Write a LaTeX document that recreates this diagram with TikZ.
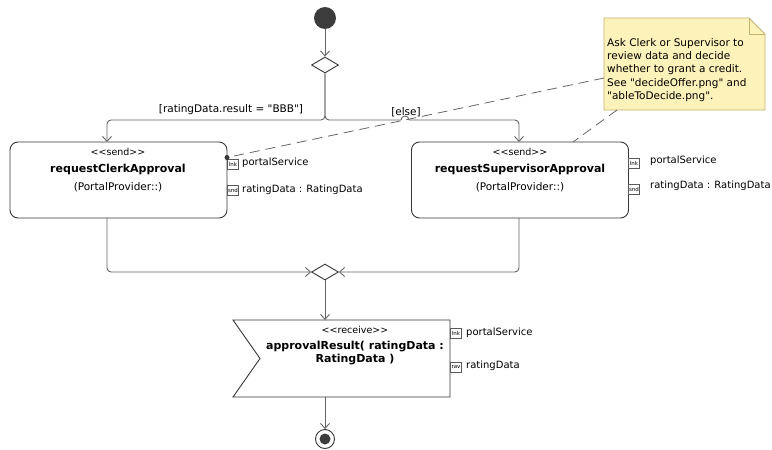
\documentclass[tikz,border=0pt]{standalone}
\usepackage{fontspec}
\setmainfont{DejaVu Sans}[Ligatures=TeXOff]
\usetikzlibrary{arrows.meta,shapes.geometric,calc}
\definecolor{linec}{RGB}{100,100,100}
\definecolor{boxc}{RGB}{55,55,55}
\definecolor{initc}{RGB}{60,60,60}
\definecolor{notefill}{RGB}{253,242,186}
\definecolor{notedraw}{RGB}{196,178,112}
\definecolor{pinc}{RGB}{90,90,90}
\begin{document}
\begin{tikzpicture}[x=1pt,y=-1pt,
  ln/.style={draw=linec,line width=0.9pt},
  arr/.style={ln,-{Straight Barb[length=5pt,width=9pt,line width=0.9pt]}},
  actbox/.style={draw=boxc,line width=0.9pt,rounded corners=8pt,fill=white,minimum width=217pt,minimum height=76pt,inner sep=0pt},
  dec/.style={diamond,draw=boxc,line width=0.9pt,fill=white,minimum width=27pt,minimum height=16pt,inner sep=0pt},
  pinbox/.style={draw=pinc,line width=0.6pt,fill=white,minimum width=11pt,minimum height=10pt,inner sep=0pt,font=\fontsize{5.5}{6}\selectfont},
  st/.style={font=\fontsize{9.5}{11}\selectfont,inner sep=0pt},
  nm/.style={font=\fontsize{11}{13}\selectfont\bfseries,inner sep=0pt},
  tx/.style={font=\fontsize{10.5}{13}\selectfont,inner sep=0pt},
  pl/.style={font=\fontsize{10}{12}\selectfont,inner sep=0pt,anchor=west},
  notedash/.style={draw=linec,line width=0.8pt,dash pattern=on 10pt off 6pt}
]
\useasboundingbox (0,0) rectangle (772,450);

% note
\draw[draw=notedraw,fill=notefill,line width=0.8pt] (604,18) -- (749,18) -- (765,34) -- (765,110) -- (604,110) -- cycle;
\draw[notedraw,line width=0.8pt] (749,18) -- (749,34) -- (765,34);
\node[tx,anchor=north west,align=left,font=\fontsize{10.5}{13.3}\selectfont] (note) at (607,38)
  {Ask Clerk or Supervisor to\\review data and decide\\whether to grant a credit.\\See "decideOffer.png" and\\"ableToDecide.png".};

% nodes
\node[circle,fill=initc,minimum size=22pt,inner sep=0pt] (init) at (325,18) {};
\node[dec] (d1) at (325,65) {};
\node[actbox] (A) at (118.5,180) {};
\node[actbox] (B) at (520,180) {};
\node[dec] (d2) at (325,272) {};
\node[circle,draw=boxc,line width=0.9pt,fill=white,minimum size=19pt,inner sep=0pt] (fin) at (325,439) {};
\fill[initc] (fin.center) circle (5.5);

% texts in action A
\node[st] (Ast) at (118,152) {<<send>>};
\node[nm] (Anm) at (118,169) {requestClerkApproval};
\node[tx] (App) at (118,187) {(PortalProvider::)};
% texts in action B
\node[st] (Bst) at (520,152) {<<send>>};
\node[nm] (Bnm) at (520,169) {requestSupervisorApproval};
\node[tx] (Bpp) at (520,187) {(PortalProvider::)};

% pins of A
\node[pinbox] (Ap1) at (233,164) {lnk};
\node[pinbox] (Ap2) at (233,190) {snd};
\node[pl] (Al1) at (242,163) {portalService};
\node[pl] (Al2) at (242,190) {ratingData : RatingData};
% pins of B
\node[pinbox] (Bp1) at (634,163) {lnk};
\node[pinbox] (Bp2) at (634,189) {snd};
\node[pl] (Bl1) at (650,161) {portalService};
\node[pl] (Bl2) at (650,186) {ratingData : RatingData};

% receive action
\coordinate (R1) at (233,320);
\coordinate (R2) at (450,320);
\coordinate (R3) at (450,397);
\coordinate (R4) at (233,397);
\coordinate (R5) at (260,358.5);
\draw[draw=boxc,line width=0.9pt,fill=white] (R1) -- (R2) -- (R3) -- (R4) -- (R5) -- cycle;
\node[st] (Rst) at (355,330) {<<receive>>};
\node[nm] (Rnm1) at (355,347) {approvalResult( ratingData :};
\node[nm] (Rnm2) at (355,360) {RatingData )};
\node[pinbox] (Rp1) at (456,333) {lnk};
\node[pinbox] (Rp2) at (456,367) {rav};
\node[pl] (Rl1) at (466,333) {portalService};
\node[pl] (Rl2) at (466,366) {ratingData};

% control flows
\coordinate (brk) at (325,120);
\coordinate (Ain) at (107,142);
\coordinate (Bin) at (519,142);
\coordinate (Aout) at (107,218);
\coordinate (Bout) at (519,218);
\coordinate (hopL) at (401,120);
\coordinate (hopR) at (409,120);
\coordinate (Rtop) at (325,320);
\coordinate (Rbot) at (325,397);

\draw[arr] (init) -- (d1);
\draw[arr,rounded corners=4pt] (d1.south) -- (brk) -| (Ain);
\draw[ln,rounded corners=4pt] (d1.south) -- (brk) -- (hopL);
\draw[ln] (hopL) arc[start angle=180,end angle=360,radius=4];
\draw[arr,rounded corners=4pt] (hopR) -| (Bin);
\draw[arr,rounded corners=4pt] (Aout) |- (d2.west);
\draw[arr,rounded corners=4pt] (Bout) |- (d2.east);
\draw[arr] (d2.south) -- (Rtop);
\draw[arr] (Rbot) -- (fin.north);

% guards
\node[tx] (g1) at (231,110) {[ratingData.result = "BBB"]};
\node[tx] (g2) at (406,112) {[else]};

% note anchors
\coordinate (dot) at (227,157.5);
\coordinate (nA) at (604,78);
\coordinate (nB) at (617,110);
\coordinate (bTop) at (573,142);
\draw[notedash] (nA) -- (dot);
\draw[notedash] (nB) -- (bTop);
\fill[boxc] (dot) circle (2.5);
\end{tikzpicture}
\end{document}
